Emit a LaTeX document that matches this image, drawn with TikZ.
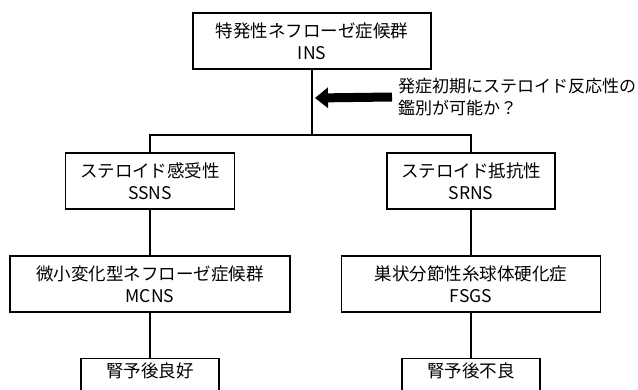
\documentclass[tikz,border=0pt]{standalone}
\usepackage{fontspec}
\setmainfont{Noto Sans CJK JP}
\usepackage{tikz}
\usetikzlibrary{arrows.meta}

\begin{document}
\begin{tikzpicture}[x=1pt,y=-1pt,
        box/.style={draw,line width=1.2pt,align=center,inner sep=0pt,minimum height=56pt,font=\fontsize{17.5}{22}\selectfont},
        wire/.style={line width=1.2pt}]
        \useasboundingbox (0,0) rectangle (638,390);
        \clip (0,0) rectangle (638,390);

        \node[box,minimum width=238pt] (ins) at (312,41) {特発性ネフローゼ症候群\\INS};
        \node[box,minimum width=169pt] (ssns) at (150,181) {ステロイド感受性\\SSNS};
        \node[box,minimum width=168pt] (srns) at (471,181) {ステロイド抵抗性\\SRNS};
        \node[box,minimum width=280pt] (mcns) at (150,284) {微小変化型ネフローゼ症候群\\MCNS};
        \node[box,minimum width=259pt] (fsgs) at (471,284) {巣状分節性糸球体硬化症\\FSGS};
        \node[box,minimum width=138pt,minimum height=0pt,anchor=north,inner ysep=4pt,text depth=30pt] (good) at (150,358) {腎予後良好};
        \node[box,minimum width=138pt,minimum height=0pt,anchor=north,inner ysep=4pt,text depth=30pt] (poor) at (471,358) {腎予後不良};

        % trunk and branches
        \coordinate (split) at (312,135);
        \draw[wire] (ins) -- (split);
        \draw[wire] (split) -| (ssns);
        \draw[wire] (split) -| (srns);
        \draw[wire] (ssns) -- (mcns);
        \draw[wire] (srns) -- (fsgs);
        \draw[wire] (mcns) -- (good);
        \draw[wire] (fsgs) -- (poor);

        % question with block arrow
        \node[anchor=west,align=left,inner sep=0pt,font=\fontsize{17}{22}\selectfont] (ask) at (398,97) {発症初期にステロイド反応性の\\鑑別が可能か？};
        \coordinate (tip) at (315,98);
        \draw[line width=9pt,-{Triangle[width=20pt,length=13pt]}] ([xshift=-6pt]ask.west) -- (tip);
\end{tikzpicture}
\end{document}
